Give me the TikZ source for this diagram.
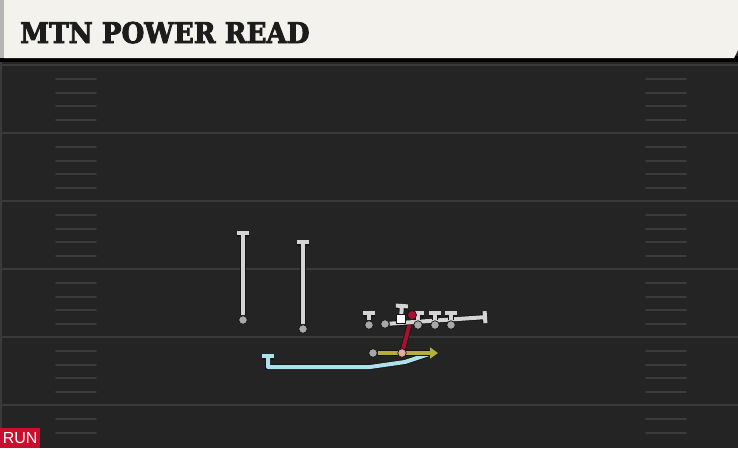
\documentclass[tikz,border=0pt]{standalone}
\usepackage{fontspec}
\setmainfont{DejaVu Serif}
\newfontfamily\titlefont[FakeBold=3]{DejaVu Serif Bold}
\newfontfamily\tagfont{Liberation Sans}
\usepackage{xcolor}
\usepackage{tikz}
\usetikzlibrary{arrows.meta,positioning}

\definecolor{fieldbg}{HTML}{242424}
\definecolor{yardgray}{HTML}{3A3A3A}
\definecolor{hashgray}{HTML}{3C3C3C}
\definecolor{headcream}{HTML}{F4F2EC}
\definecolor{headedge}{HTML}{B5B5B5}
\definecolor{titleink}{HTML}{1C1C1C}
\definecolor{routegray}{HTML}{D4D4D4}
\definecolor{routeedge}{HTML}{151515}
\definecolor{dotgray}{HTML}{A8A8A8}
\definecolor{readred}{HTML}{A8102E}
\definecolor{mesholive}{HTML}{B2AE42}
\definecolor{pinkdot}{HTML}{E8A6AE}
\definecolor{sweepcyan}{HTML}{ADE1EC}
\definecolor{runred}{HTML}{C8102E}

\tikzset{
  yardline/.style={draw=yardgray, line width=2pt},
  hashmark/.style={draw=hashgray, line width=1.8pt, line cap=round},
  route/.style={line width=4pt, draw=#1, preaction={draw=routeedge, line width=5.6pt}},
  route/.default=routegray,
  blocktip/.style={-{Bar[width=12pt]}},
  player/.style={circle, inner sep=0pt, minimum size=8.5pt, fill=#1, draw=routeedge, line width=0.7pt},
  player/.default=dotgray,
  centerbox/.style={rectangle, inner sep=0pt, minimum size=9pt, fill=white, draw=routeedge, line width=0.7pt},
}

\begin{document}
\begin{tikzpicture}[x=1pt, y=-1pt]
    \useasboundingbox (0,0) rectangle (738,448);

    % field
    \fill[fieldbg] (0,0) rectangle (738,448);
    \fill[yardgray] (0,62) rectangle (2,448);
    \foreach \y in {65,133,201,269,337,405}
        \draw[yardline] (0,\y) -- (738,\y);
    \foreach \y in {79,93,106,120,147,161,174,188,215,229,242,256,283,297,310,324,351,365,378,392,419,433}{
        \draw[hashmark] (56,\y) -- (96,\y);
        \draw[hashmark] (646,\y) -- (686,\y);
    }

    % header
    \fill[black] (0,56) rectangle (738,62);
    \fill[headedge] (0,0) rectangle (4,58);
    \fill[headcream] (4,0) -- (738,0) -- (738,50) -- (734,58) -- (4,58) -- cycle;
    \node[anchor=base west, inner sep=0pt, text=titleink, xscale=0.92,
          font=\titlefont\fontsize{28.5}{28.5}\selectfont] (title) at (20,43) {MTN POWER READ};

    % play tag
    \node[anchor=south west, fill=runred, text=white, inner sep=0pt,
          minimum width=40pt, minimum height=20pt,
          font=\tagfont\fontsize{16}{16}\selectfont] (tag) at (0,448) {RUN};

    % route ends
    \coordinate (wrA) at (243,231);
    \coordinate (wrB) at (303,240);
    \coordinate (teT) at (369,311);
    \coordinate (pullT) at (487,317);
    \coordinate (cT) at (402,304);
    \coordinate (rgT) at (418,311);
    \coordinate (rtT) at (435,311);
    \coordinate (reT) at (451,311);
    \coordinate (readT) at (412,315);
    \coordinate (meshT) at (438,353);
    \coordinate (swA) at (432,353);
    \coordinate (swB) at (405,362);
    \coordinate (swC) at (370,367);
    \coordinate (swD) at (268,367);
    \coordinate (swT) at (268,354);

    % players
    \node[player] (wrAdot) at (243,320) {};
    \node[player] (wrBdot) at (303,329) {};
    \node[player] (tedot) at (369,325) {};
    \node[player] (lgdot) at (385,324) {};
    \node[centerbox] (cbox) at (401,319) {};
    \node[player] (rgdot) at (418,325) {};
    \node[player] (rtdot) at (435,325) {};
    \node[player] (redot) at (451,325) {};
    \node[player] (rbdot) at (373,353) {};
    \node[player=pinkdot] (qbdot) at (402,353) {};

    % sweep (cyan)
    \draw[route=sweepcyan, blocktip, line join=round] (swA) -- (swB) -- (swC) -- (swD) -- (swT);

    % mesh (olive)
    \draw[route=mesholive, -{Triangle[length=8pt, width=11pt]}] (rbdot) -- (meshT);
    \node[player=pinkdot] at (qbdot) {};

    % read (red)
    \draw[route=readred] (qbdot) -- (readT);
    \node[player=readred, minimum size=9pt] (readdot) at (readT) {};

    % receivers
    \draw[route, blocktip] (wrAdot) -- (wrA);
    \draw[route, blocktip] (wrBdot) -- (wrB);

    % line
    \draw[route, blocktip] (tedot) -- (teT);
    \draw[route, blocktip] (lgdot) -- (pullT);
    \draw[route, blocktip] (cbox) -- (cT);
    \draw[route, blocktip] (rgdot) -- (rgT);
    \draw[route, blocktip] (rtdot) -- (rtT);
    \draw[route, blocktip] (redot) -- (reT);
    \foreach \p in {wrAdot,wrBdot,tedot,lgdot,rgdot,rtdot,redot}
        \node[player] at (\p) {};
    \node[centerbox] at (cbox) {};
    \node[player=readred, minimum size=9pt] at (readdot) {};
\end{tikzpicture}
\end{document}
